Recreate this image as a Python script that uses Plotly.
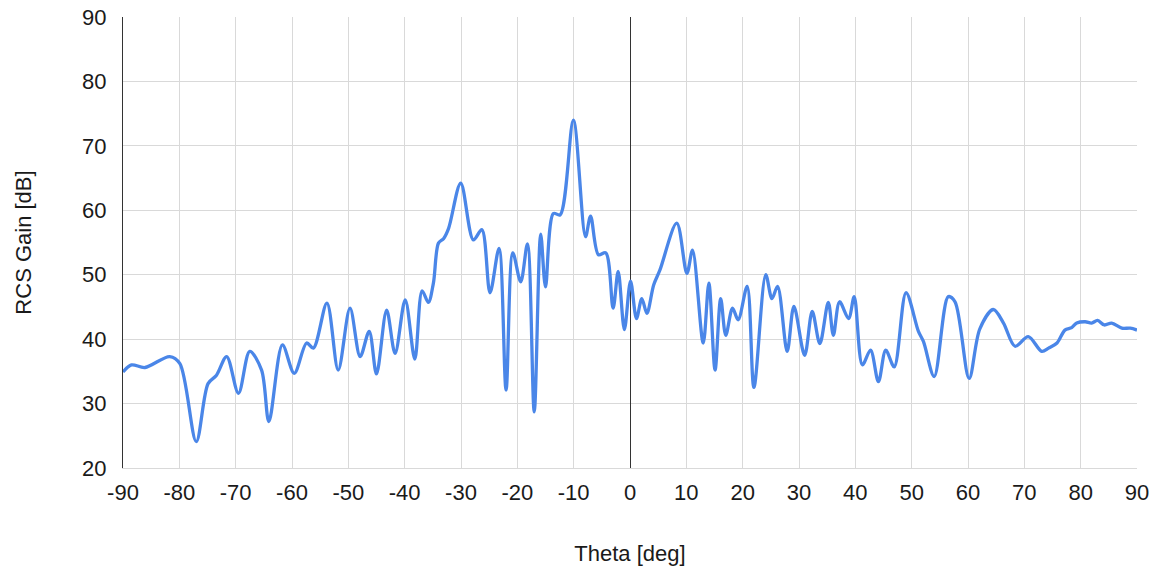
import plotly.graph_objects as go

theta = [-90, -88.5, -86.1, -81.7, -79.9, -77.0, -74.9, -73.4, -71.6, -69.5,
         -67.5, -65.4, -64.1, -61.7, -59.6, -57.4, -56.2, -53.8, -51.8, -49.7,
         -47.9, -46.3, -45.0, -43.2, -41.7, -39.9, -38.2, -36.9, -35.8, -34.9,
         -34.0, -33.1, -32.2, -30.05, -27.8, -26.3, -24.85, -23.25, -22.0, -20.8,
         -19.4, -18.2, -17.0, -15.85, -15.0, -13.6, -12.4, -10.05, -7.9, -7.0,
         -5.6, -4.3, -3.0, -2.1, -1.0, 0.1, 1.15, 2.1, 3.0, 4.2,
         5.3, 8.3, 10.1, 11.1, 13.0, 14.0, 15.1, 16.1, 17.0, 18.2,
         19.2, 20.8, 22.0, 24.1, 25.2, 26.2, 27.9, 29.1, 31.0, 32.35,
         33.7, 35.2, 36.1, 37.2, 38.8, 39.8, 41.25, 42.7, 44.1, 45.4,
         46.9, 49.0, 51.2, 52.1, 54.0, 56.5, 57.7, 60.2, 62.1, 64.5,
         66.3, 68.35, 70.7, 73.1, 74.3, 75.8, 77.2, 78.4, 79.3, 80.8,
         81.95, 83.0, 84.2, 85.5, 87.3, 88.8, 90]

gain = [34.9, 36.0, 35.6, 37.3, 36.2, 24.1, 33.1, 34.4, 37.3, 31.6,
        38.1, 35.2, 27.2, 39.1, 34.7, 39.4, 38.6, 45.6, 35.2, 44.8,
        37.3, 41.2, 34.6, 44.5, 37.8, 46.1, 36.9, 47.5, 45.7, 48.7,
        54.9, 55.6, 57.2, 64.2, 55.4, 57.0, 47.2, 54.1, 32.1, 53.4,
        48.9, 54.8, 28.7, 56.3, 48.1, 59.5, 59.3, 74.0, 55.9, 59.1,
        53.1, 53.4, 44.8, 50.5, 41.5, 49.0, 43.2, 46.3, 44.0, 48.4,
        50.7, 58.0, 50.2, 53.8, 39.4, 48.7, 35.2, 46.3, 40.6, 44.8,
        43.0, 48.2, 32.5, 50.0, 46.3, 48.2, 38.1, 45.1, 37.5, 44.3,
        39.3, 45.7, 40.6, 45.8, 43.2, 46.6, 36.0, 38.3, 33.4, 38.3,
        35.7, 47.2, 41.2, 39.6, 34.2, 46.6, 45.8, 33.9, 41.6, 44.6,
        42.5, 38.9, 40.4, 38.1, 38.6, 39.4, 41.4, 41.8, 42.5, 42.7,
        42.5, 42.9, 42.2, 42.5, 41.7, 41.7, 41.4]

x_ticks = list(range(-90, 91, 10))
y_ticks = list(range(20, 91, 10))

fig = go.Figure()
fig.add_trace(go.Scatter(
    x=theta, y=gain, mode="lines",
    line=dict(color="#4a86e8", width=3.3, shape="spline", smoothing=0.9),
    showlegend=False,
))

tick_font = dict(family="Liberation Sans, Arial, sans-serif", size=22, color="#1a1a1a")
title_font = dict(family="Liberation Sans, Arial, sans-serif", size=22, color="#1a1a1a")

fig.update_layout(
    width=1160, height=572,
    margin=dict(l=123, r=23, t=17, b=104, autoexpand=False),
    paper_bgcolor="white", plot_bgcolor="white",
    font=tick_font,
    xaxis=dict(
        range=[-90, 90], tickvals=x_ticks, ticktext=[str(v) for v in x_ticks],
        tickfont=tick_font, automargin=False,
        showgrid=True, gridcolor="#d9d9d9", gridwidth=1,
        zeroline=True, zerolinecolor="#333333", zerolinewidth=1,
        showline=True, linecolor="#d9d9d9", linewidth=1,
        ticks="", ticklabelstandoff=5,
        title=dict(text="Theta [deg]", standoff=41, font=title_font),
    ),
    yaxis=dict(
        range=[20, 90], tickvals=y_ticks, ticktext=[str(v) for v in y_ticks],
        tickfont=tick_font, automargin=False,
        showgrid=True, gridcolor="#d9d9d9", gridwidth=1,
        zeroline=False,
        showline=True, linecolor="#333333", linewidth=1,
        ticks="", ticklabelstandoff=11,
        title=dict(text="RCS Gain [dB]", standoff=44, font=title_font),
    ),
)

fig.write_html("out.html", config={"displayModeBar": False},
               post_script="document.body.style.margin='0';")
